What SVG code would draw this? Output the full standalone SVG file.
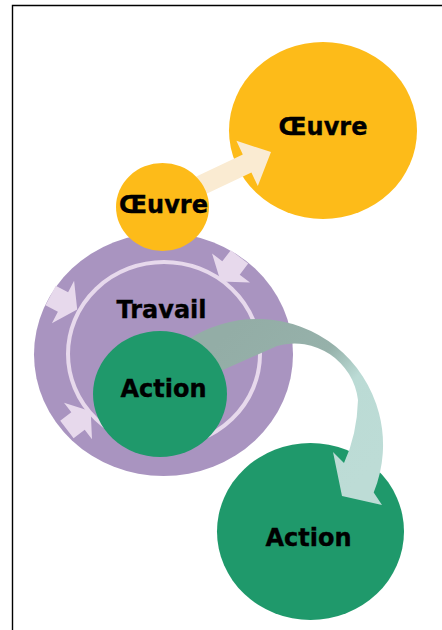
<svg xmlns="http://www.w3.org/2000/svg" width="442" height="630" viewBox="0 0 442 630">
  <style>
    .lbl { font-family: "DejaVu Sans", Verdana, sans-serif; font-weight: bold; font-size: 24px; fill: #000; stroke: #000; stroke-width: 0.35; text-anchor: middle; }
    .yellow { fill: #FDBB19; }
    .green { fill: #1F996B; }
    .purple { fill: #A994C0; }
    .lav { fill: #E7D9EC; }
  </style>
  <defs>
    <linearGradient id="curveGrad" gradientUnits="userSpaceOnUse" x1="230" y1="330" x2="370" y2="470">
      <stop offset="0" stop-color="#93ADA6"/>
      <stop offset="0.42" stop-color="#96B1AA"/>
      <stop offset="0.62" stop-color="#BBDBD5"/>
      <stop offset="1" stop-color="#BDDCD6"/>
    </linearGradient>
  </defs>
  <rect width="442" height="630" fill="#fff"/>
  <path d="M12.5,640 V5.5 H450" fill="none" stroke="#000" stroke-width="1.4"/>

  <g id="travail">
    <ellipse class="purple" cx="163.5" cy="354.5" rx="129.5" ry="121.5"/>
    <ellipse cx="164" cy="354" rx="96" ry="92" fill="none" stroke="#E7D9EC" stroke-width="4"/>
    <polygon class="lav" points="230.8,250.2 248.2,263.6 239.7,274.7 250,282.6 220.6,281.4 212,253.4 222.3,261.3"/>
    <polygon class="lav" points="55.7,285.7 68.1,292.2 74.1,280.7 77.2,309.4 51.9,323.3 57.9,311.8 45.5,305.3"/>
    <polygon class="lav" points="60.2,420.8 71.3,412.3 64,402.7 90.7,411.3 92,439.3 84.7,429.7 73.6,438.2"/>
    <text class="lbl" x="161.5" y="318">Travail</text>
  </g>

  <g id="oeuvre-big">
    <ellipse class="yellow" cx="323" cy="130.5" rx="94" ry="88.5"/>
    <text class="lbl" x="323" y="135">Œuvre</text>
  </g>

  <g id="connectors">
    <polygon fill="#FAEBD2" points="165.7,191 242.8,154.4 236.4,140.8 271,152 257.8,186 251.4,172.4 174.3,209"/>
  </g>

  <g id="oeuvre-small">
    <ellipse class="yellow" cx="162.5" cy="207" rx="46.5" ry="44"/>
    <text class="lbl" x="163.5" y="213">Œuvre</text>
  </g>

  <g id="action-big">
    <ellipse class="green" cx="310.5" cy="531.5" rx="93.5" ry="88.5"/>
    <text class="lbl" x="308.5" y="546">Action</text>
  </g>

  <g id="connectors-curved">
    <path fill="url(#curveGrad)" d="M185,341.6 A126,126 0 0 1 373.7,492.6 L382,505 L342,496 L333,452 L344,463 Q357,435 358,400 A64,64 0 0 0 277,346 L205,378 Z"/>
  </g>

  <g id="action-small">
    <ellipse class="green" cx="160" cy="394" rx="67" ry="63"/>
    <text class="lbl" x="163.5" y="397">Action</text>
  </g>
</svg>
